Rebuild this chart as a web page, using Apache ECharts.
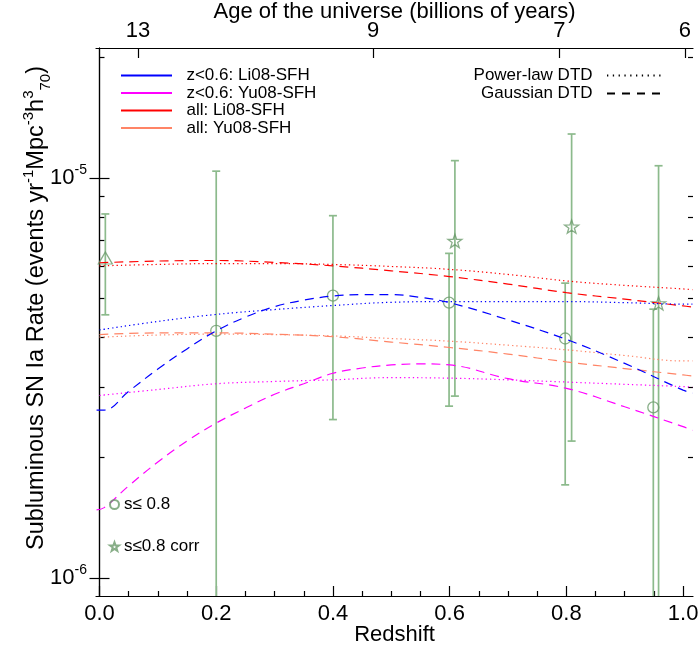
<!DOCTYPE html>
<html>
<head>
<meta charset="utf-8">
<script src="https://cdn.jsdelivr.net/npm/echarts@6/dist/echarts.min.js"></script>
<style>
html, body { margin: 0; padding: 0; background: #fff; }
#chart { width: 700px; height: 658px; }
</style>
</head>
<body>
<div id="chart"></div>
<script>
// rates are in units of 1e-6 events yr^-1 Mpc^-3 h70^3
var zGrid = [0, 0.1, 0.2, 0.3, 0.4, 0.5, 0.6, 0.7, 0.8, 0.9, 1.0, 1.016];
var zFine = [-0.005, 0.008, 0.05, 0.1, 0.15, 0.2, 0.25, 0.3, 0.35, 0.4, 0.45, 0.5, 0.55, 0.6, 0.7, 0.8, 0.9, 1.0, 1.016];

var liAllPower = [6.03, 6.08, 6.11, 6.11, 6.08, 6.01, 5.91, 5.74, 5.53, 5.39, 5.28, 5.26];
var liAllGauss = [6.14, 6.20, 6.22, 6.15, 6.03, 5.86, 5.67, 5.43, 5.17, 4.98, 4.79, 4.76];
var yuAllPower = [4.00, 4.05, 4.07, 4.06, 4.03, 3.97, 3.91, 3.82, 3.72, 3.60, 3.49, 3.49];
var yuAllGauss = [4.06, 4.10, 4.10, 4.07, 4.01, 3.89, 3.77, 3.63, 3.47, 3.34, 3.22, 3.20];
var liLowPower = [4.17, 4.38, 4.56, 4.69, 4.80, 4.89, 4.91, 4.91, 4.91, 4.88, 4.84, 4.84];
var yuLowPower = [2.86, 2.96, 3.06, 3.10, 3.13, 3.17, 3.16, 3.13, 3.09, 3.05, 3.01, 3.00];
var liLowGauss = [2.63, 2.63, 2.93, 3.33, 3.74, 4.15, 4.49, 4.77, 4.95, 5.07, 5.11, 5.11, 5.03, 4.88, 4.42, 3.95, 3.44, 2.95, 2.90];
var yuLowGauss = [1.48, 1.50, 1.70, 1.95, 2.20, 2.44, 2.66, 2.88, 3.06, 3.25, 3.35, 3.41, 3.43, 3.41, 3.15, 2.98, 2.68, 2.39, 2.34];

// measured rates with error bars
var localZ = [0.01];
var localRate = [6.31];
var localLo = [4.55];
var localHi = [8.13];

var circZ = [0.2, 0.4, 0.599, 0.798, 0.949];
var circRate = [4.15, 5.08, 4.88, 3.97, 2.67];
var circLo = [0.5, 2.49, 2.69, 1.71, 0.5];
var circHi = [10.4, 8.05, 6.48, 5.46, 4.70];

var starZ = [0.609, 0.809, 0.958];
var starRate = [6.96, 7.56, 4.86];
var starLo = [2.85, 2.20, 0.5];
var starHi = [11.05, 12.88, 10.73];

// axis ticks
var xMajor = [0, 0.2, 0.4, 0.6, 0.8, 1.0];
var xMinor = [0.05, 0.1, 0.15, 0.25, 0.3, 0.35, 0.45, 0.5, 0.55, 0.65, 0.7, 0.75, 0.85, 0.9, 0.95];
var yMajor = [1e-6, 1e-5];
var yMinor = [2e-6, 3e-6, 4e-6, 5e-6, 6e-6, 7e-6, 8e-6, 9e-6, 2e-5];
var ageLabels = ['13', '9', '7', '6'];
var ageZ = [0.066, 0.469, 0.788, 1.003];

var FONT = 'Liberation Sans';
var X_MIN = -0.006, X_MAX = 1.017;
var Y_MIN = 9.02e-7, Y_MAX = 2.113e-5;
var GREEN_BAR = '#8cba8c';
var GREEN_MARK = '#6a9a6a';
var STAR = 'path://M0,-10L2.35,-3.24L9.51,-3.09L3.8,1.24L5.88,8.09L0,4L-5.88,8.09L-3.8,1.24L-9.51,-3.09L-2.35,-3.24Z';

function toPairs(zs, vals) {
    return zs.map(function(z, i) { return [z, vals[i] * 1e-6]; });
}

function curve(name, zs, vals, color, dash) {
    return {
        name: name,
        type: 'line',
        data: toPairs(zs, vals),
        symbol: 'none',
        smooth: 0.4,
        color: color,
        lineStyle: { color: color, width: 1.2, type: dash === 'dot' ? [1.3, 3] : [9, 6] }
    };
}

function errorBars(zs, lo, hi) {
    return {
        type: 'custom',
        silent: true,
        data: zs.map(function(z, i) { return [z, lo[i] * 1e-6, hi[i] * 1e-6]; }),
        encode: { x: 0, y: [1, 2] },
        renderItem: function(params, api) {
            var cs = params.coordSys;
            var top = api.coord([api.value(0), api.value(2)]);
            var bot = api.coord([api.value(0), api.value(1)]);
            var x = top[0];
            var y1 = Math.max(top[1], cs.y);
            var y2 = Math.min(bot[1], cs.y + cs.height);
            var st = { stroke: GREEN_BAR, lineWidth: 1.7 };
            var kids = [{ type: 'line', shape: { x1: x, y1: y1, x2: x, y2: y2 }, style: st }];
            if (top[1] >= cs.y) {
                kids.push({ type: 'line', shape: { x1: x - 4, y1: top[1], x2: x + 4, y2: top[1] }, style: st });
            }
            if (bot[1] <= cs.y + cs.height) {
                kids.push({ type: 'line', shape: { x1: x - 4, y1: bot[1], x2: x + 4, y2: bot[1] }, style: st });
            }
            return { type: 'group', children: kids };
        }
    };
}

function markers(name, zs, vals, symbol, size) {
    return {
        name: name,
        type: 'scatter',
        data: toPairs(zs, vals),
        symbol: symbol,
        symbolSize: size,
        symbolKeepAspect: true,
        itemStyle: { color: 'rgba(0,0,0,0)', borderColor: GREEN_MARK, borderWidth: 1.3 }
    };
}

function nearestAge(v) {
    var best = 0;
    ageZ.forEach(function(z, i) {
        if (Math.abs(z - v) < Math.abs(ageZ[best] - v)) best = i;
    });
    return ageLabels[best];
}

var expRich = {
    b: { fontSize: 22, fontFamily: FONT, color: '#000', lineHeight: 30 },
    s: { fontSize: 14, fontFamily: FONT, color: '#000', lineHeight: 14, verticalAlign: 'top' }
};

function yAxisDef(pos, ticks, len, showLine, showLabel) {
    return {
        type: 'log',
        logBase: 10,
        position: pos,
        min: Y_MIN,
        max: Y_MAX,
        axisLine: { show: showLine, lineStyle: { color: '#000', width: 1.2 } },
        axisTick: { show: true, inside: true, length: len, customValues: ticks, lineStyle: { color: '#000', width: 1.2 } },
        axisLabel: {
            show: showLabel,
            customValues: ticks,
            margin: 9,
            formatter: function(v) {
                return '{b|10}{s|' + Math.round(Math.log10(v)) + '}';
            },
            rich: expRich
        },
        splitLine: { show: false },
        minorTick: { show: false }
    };
}

var legendText = { fontSize: 17, fontFamily: FONT, color: '#000', lineHeight: 17 };

var chart = echarts.init(document.getElementById('chart'));

var option = {
    animation: false,
    backgroundColor: '#fff',
    textStyle: { fontFamily: FONT },
    grid: { left: 96, right: 7, top: 48, bottom: 62, outerBoundsMode: 'none' },
    legend: [
        {
            orient: 'vertical',
            left: 120,
            top: 67,
            padding: 0,
            itemWidth: 51,
            itemHeight: 10,
            itemGap: 0.5,
            formatter: '  {name}',
            itemStyle: { opacity: 0 },
            textStyle: legendText,
            data: [
                { name: 'z<0.6: Li08-SFH', lineStyle: { type: 'solid' } },
                { name: 'z<0.6: Yu08-SFH', lineStyle: { type: 'solid' } },
                { name: 'all: Li08-SFH', lineStyle: { type: 'solid' } },
                { name: 'all: Yu08-SFH', lineStyle: { type: 'solid' } }
            ]
        },
        {
            orient: 'vertical',
            right: 34,
            top: 67,
            padding: 0,
            align: 'right',
            itemWidth: 58,
            itemHeight: 10,
            itemGap: 1,
            formatter: '{name}  ',
            itemStyle: { opacity: 0 },
            textStyle: legendText,
            data: [
                { name: 'Power-law DTD', lineStyle: { type: [1.3, 4.5] } },
                { name: 'Gaussian DTD', lineStyle: { type: [8, 7] } }
            ]
        },
        {
            orient: 'vertical',
            left: 109,
            top: 496,
            padding: 0,
            itemWidth: 9,
            itemHeight: 9,
            itemGap: 25,
            textStyle: legendText,
            data: ['s\u2264 0.8', 's\u22640.8 corr']
        }
    ],
    xAxis: [
        {
            type: 'value',
            position: 'bottom',
            min: X_MIN,
            max: X_MAX,
            name: 'Redshift',
            nameLocation: 'middle',
            nameGap: 28,
            nameMoveOverlap: false,
            nameTextStyle: { fontSize: 22, fontFamily: FONT, color: '#000' },
            axisLine: { show: true, onZero: false, lineStyle: { color: '#000', width: 1.2 } },
            axisTick: { inside: true, length: 10, customValues: xMajor, lineStyle: { color: '#000', width: 1.2 } },
            axisLabel: {
                customValues: xMajor,
                margin: 7,
                fontSize: 22,
                fontFamily: FONT,
                color: '#000',
                formatter: function(v) { return v.toFixed(1); }
            },
            splitLine: { show: false }
        },
        {
            type: 'value',
            position: 'bottom',
            min: X_MIN,
            max: X_MAX,
            axisLine: { show: false, onZero: false },
            axisTick: { inside: true, length: 5, customValues: xMinor, lineStyle: { color: '#000', width: 1.2 } },
            axisLabel: { show: false },
            splitLine: { show: false }
        },
        {
            type: 'value',
            position: 'top',
            min: X_MIN,
            max: X_MAX,
            name: 'Age of the universe (billions of years)',
            nameLocation: 'middle',
            nameGap: 25,
            nameMoveOverlap: false,
            nameTextStyle: { fontSize: 22, fontFamily: FONT, color: '#000' },
            axisLine: { show: true, onZero: false, lineStyle: { color: '#000', width: 1.2 } },
            axisTick: { inside: true, length: 10, customValues: ageZ, lineStyle: { color: '#000', width: 1.2 } },
            axisLabel: {
                customValues: ageZ,
                margin: 6,
                fontSize: 22,
                fontFamily: FONT,
                color: '#000',
                formatter: nearestAge
            },
            splitLine: { show: false }
        }
    ],
    yAxis: [
        Object.assign(yAxisDef('left', yMajor, 10, true, true), {
            name: '{t|Subluminous SN Ia Rate (events yr}{p|-1}{t|Mpc}{p|-3}{t|h}{p|3}{q|70}{t|)}',
            nameLocation: 'middle',
            nameGap: 43,
            nameMoveOverlap: false,
            nameTextStyle: {
                padding: [0, 0, 0, 28],
                rich: {
                    t: { fontSize: 23.5, fontFamily: FONT, color: '#000', lineHeight: 32 },
                    p: { fontSize: 15, fontFamily: FONT, color: '#000', lineHeight: 15, verticalAlign: 'top' },
                    q: { fontSize: 15, fontFamily: FONT, color: '#000', lineHeight: 15, verticalAlign: 'bottom' }
                }
            }
        }),
        yAxisDef('left', yMinor, 5, false, false),
        yAxisDef('right', yMajor, 10, true, false),
        yAxisDef('right', yMinor, 5, false, false)
    ],
    series: [
        curve('all: Li08-SFH', zGrid, liAllPower, '#ff0000', 'dot'),
        curve('all: Li08-SFH', zGrid, liAllGauss, '#ff0000', 'dash'),
        curve('all: Yu08-SFH', zGrid, yuAllPower, '#ff8466', 'dot'),
        curve('all: Yu08-SFH', zGrid, yuAllGauss, '#ff8466', 'dash'),
        curve('z<0.6: Li08-SFH', zGrid, liLowPower, '#0000ff', 'dot'),
        curve('z<0.6: Li08-SFH', zFine, liLowGauss, '#0000ff', 'dash'),
        curve('z<0.6: Yu08-SFH', zGrid, yuLowPower, '#ff00ff', 'dot'),
        curve('z<0.6: Yu08-SFH', zFine, yuLowGauss, '#ff00ff', 'dash'),
        curve('Power-law DTD', [], [], '#000', 'dot'),
        curve('Gaussian DTD', [], [], '#000', 'dash'),
        errorBars(localZ, localLo, localHi),
        errorBars(circZ, circLo, circHi),
        errorBars(starZ, starLo, starHi),
        markers('local', localZ, localRate, 'triangle', [14, 12]),
        markers('s\u2264 0.8', circZ, circRate, 'circle', 11),
        markers('s\u22640.8 corr', starZ, starRate, STAR, 14)
    ]
};

chart.setOption(option);
</script>
</body>
</html>
